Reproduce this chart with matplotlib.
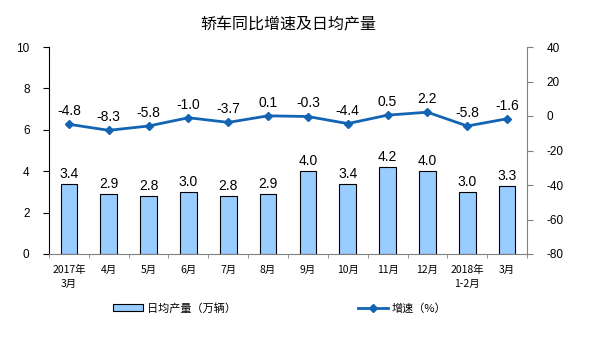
import numpy as np
import matplotlib.pyplot as plt
import matplotlib as mpl
from matplotlib.lines import Line2D
from matplotlib.patches import Patch

mpl.rcParams['font.family'] = ['Liberation Sans', 'Noto Sans CJK SC', 'DejaVu Sans']
mpl.rcParams['axes.unicode_minus'] = False

months = ["2017年\n3月", "4月", "5月", "6月", "7月", "8月", "9月", "10月",
          "11月", "12月", "2018年\n1-2月", "3月"]
daily_output = [3.4, 2.9, 2.8, 3.0, 2.8, 2.9, 4.0, 3.4, 4.2, 4.0, 3.0, 3.3]
growth = [-4.8, -8.3, -5.8, -1.0, -3.7, 0.1, -0.3, -4.4, 0.5, 2.2, -5.8, -1.6]

bar_color = "#99CCFF"
line_color = "#1464B4"
cjk = ['Noto Sans CJK SC', 'DejaVu Sans']

fig = plt.figure(figsize=(6.01, 3.43), dpi=100)
ax = fig.add_axes([49 / 601, 1 - 254 / 343, (527 - 49) / 601, (254 - 47) / 343])
x = np.arange(len(months))

# 柱状图
ax.bar(x, daily_output, width=0.42, color=bar_color, edgecolor="black", linewidth=0.8)
for xi, v in zip(x, daily_output):
    ax.text(xi, v + 0.15, f"{v:.1f}", ha="center", va="bottom", fontsize=10)

ax.set_xlim(-0.5, len(months) - 0.5)
ax.set_ylim(0, 10)
ax.set_yticks([0, 2, 4, 6, 8, 10])
ax.set_xticks(x)
ax.set_xticklabels(months, fontsize=7.5, family=cjk, linespacing=1.5)
ax.set_xticks(np.arange(-0.5, len(months), 1), minor=True)
ax.tick_params(axis="x", which="major", length=0, pad=8)
ax.tick_params(axis="x", which="minor", length=3, color="#808080")
ax.tick_params(axis="y", length=4, labelsize=8.5, pad=10)
ax.spines["top"].set_visible(False)
ax.spines["right"].set_visible(False)
ax.spines["bottom"].set_color("#808080")

# 折线图
ax2 = ax.twinx()
ax2.plot(x, growth, color=line_color, linewidth=2, marker="D", markersize=4.5)
for xi, v in zip(x, growth):
    ax2.text(xi, v + 3.5, f"{v:.1f}", ha="center", va="bottom", fontsize=10)
ax2.set_ylim(-80, 40)
ax2.set_yticks([-80, -60, -40, -20, 0, 20, 40])
ax2.tick_params(axis="y", length=4, labelsize=8.5, pad=10, color="#808080")
for s in ["top", "left", "bottom"]:
    ax2.spines[s].set_visible(False)
ax2.spines["right"].set_color("#808080")

fig.text(0.48, 1 - 25 / 343, "轿车同比增速及日均产量", ha="center", va="center",
         fontsize=11.5, family=cjk)

handles = [Patch(facecolor=bar_color, edgecolor="black", linewidth=0.8),
           Line2D([0], [0], color=line_color, linewidth=2, marker="D", markersize=4.5)]
fig.legend(handles, ["日均产量（万辆）", "增速（%）"], loc="center",
           bbox_to_anchor=(0.465, 1 - 308 / 343), ncol=2, frameon=False,
           columnspacing=11, handlelength=2.7, handletextpad=0.3,
           prop={"family": cjk, "size": 8})

plt.savefig("out.png", dpi=100)
